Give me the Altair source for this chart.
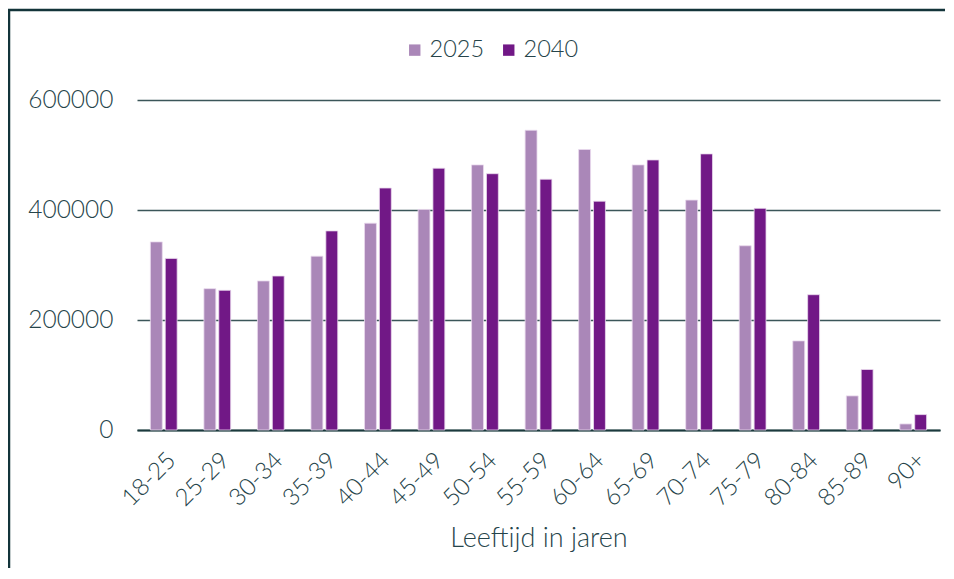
import altair as alt
import pandas as pd

categories = ["18-25", "25-29", "30-34", "35-39", "40-44", "45-49", "50-54",
              "55-59", "60-64", "65-69", "70-74", "75-79", "80-84", "85-89", "90+"]
values_2025 = [342000, 257000, 271000, 316000, 376000, 401000, 482000,
               545000, 510000, 482000, 418000, 335000, 162000, 62000, 11000]
values_2040 = [312000, 254000, 280000, 362000, 440000, 476000, 466000,
               456000, 416000, 491000, 502000, 403000, 246000, 110000, 28000]
years = ["2025", "2040"]
y_ticks = [0, 200000, 400000, 600000]
title_text = "Figuur 3.1: Het aantal mensen dat informele hulp verleent in 2025 en 2040, naar leeftijd"

rows = []
for c, a, b in zip(categories, values_2025, values_2040):
    rows.append({"leeftijd": c, "jaar": years[0], "aantal": a})
    rows.append({"leeftijd": c, "jaar": years[1], "aantal": b})
df = pd.DataFrame(rows)

FONT = "Lato"
TXT = "#26444a"
W, H = 803, 330
BOTTOM = 139

bars = alt.Chart(df).mark_bar(stroke="#ead9ee", strokeWidth=0.8).encode(
    x=alt.X("leeftijd:N", sort=categories,
            scale=alt.Scale(paddingInner=0.5, paddingOuter=0.25),
            axis=alt.Axis(title="Leeftijd in jaren", labelAngle=-45,
                          labelFontSize=24, labelFont=FONT, labelFontWeight=300,
                          labelColor=TXT, labelPadding=18, ticks=False,
                          domainColor="#1b3a3d", domainWidth=2,
                          titleFont=FONT, titleFontSize=27, titleFontWeight=300,
                          titleColor=TXT, titlePadding=15)),
    xOffset=alt.XOffset("jaar:N", scale=alt.Scale(paddingInner=0.2)),
    y=alt.Y("aantal:Q", scale=alt.Scale(domain=[0, 600000], nice=False),
            axis=alt.Axis(title=None, values=y_ticks, format="d",
                          labelFontSize=24.5, labelFont=FONT, labelFontWeight=300,
                          labelColor=TXT, labelPadding=24, ticks=False,
                          domain=False, gridColor="#3b5659", gridWidth=1.5)),
    color=alt.Color("jaar:N", scale=alt.Scale(domain=years, range=["#aa87b8", "#711886"]),
                    legend=alt.Legend(title=None, orient="none", direction="horizontal",
                                      legendX=266, legendY=-62,
                                      symbolType="square", symbolSize=130,
                                      symbolStrokeWidth=0, labelFontSize=23.5,
                                      labelFont=FONT, labelFontWeight=300,
                                      labelColor=TXT, labelOffset=3,
                                      columnPadding=12)),
)

# decorative frame lines: top and left
frame_top = alt.Chart(pd.DataFrame({"k": [0]})).mark_rule(
    color="#13343a", strokeWidth=2.5
).encode(x=alt.value(-129), x2=alt.value(W + 5), y=alt.value(-90))
frame_left = alt.Chart(pd.DataFrame({"k": [0]})).mark_rule(
    color="#13343a", strokeWidth=2.5
).encode(x=alt.value(-128), y=alt.value(-91), y2=alt.value(H + BOTTOM - 1))
title = alt.Chart(pd.DataFrame({"t": [title_text]})).mark_text(
    align="left", baseline="alphabetic", fontSize=20, fontStyle="italic",
    font=FONT, color=TXT
).encode(x=alt.value(-131), y=alt.value(-95), text="t:N")

chart = alt.layer(bars, frame_top, frame_left, title).properties(
    width=W, height=H,
    autosize=alt.AutoSizeParams(type="none"),
    padding={"left": 129, "top": 92, "right": 6, "bottom": BOTTOM},
).configure_view(stroke="transparent", strokeWidth=0)

chart.save("out.html", embed_options={"renderer": "svg", "actions": False})
